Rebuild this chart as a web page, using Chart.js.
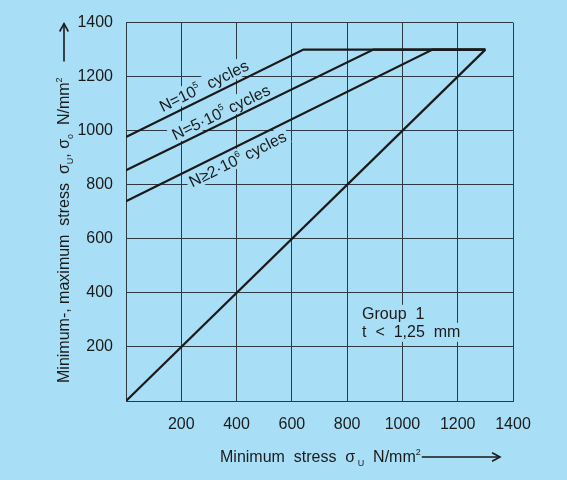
<!DOCTYPE html>
<html>
<head>
<meta charset="utf-8">
<script src="https://cdn.jsdelivr.net/npm/chart.js@4.4.1/dist/chart.umd.min.js"></script>
<style>
  html, body { margin: 0; padding: 0; background: #a8dff7; }
  #wrap { width: 567px; height: 480px; }
</style>
</head>
<body>
<div id="wrap"><canvas id="stressChart" width="567" height="480"></canvas></div>
<script>
// axis ticks, N/mm2
const tickValues = [0, 200, 400, 600, 800, 1000, 1200, 1400];

// corner points of the curves
const n1e5X = [0, 642, 1300];
const n1e5Y = [977, 1300, 1300];
const n5e5X = [0, 895, 1300];
const n5e5Y = [854, 1300, 1300];
const n2e6X = [0, 1109, 1300];
const n2e6Y = [739, 1300, 1300];
const diagX = [0, 1300];
const diagY = [0, 1300];

const BG = '#a8dff7';
const INK = '#1a1a1a';
const FONT = "'Liberation Sans', Arial, sans-serif";

function toPoints(xs, ys) {
    return xs.map((x, i) => ({ x: x, y: ys[i] }));
}

// --------------------------------------------------------------------
// rich text helpers (sub/superscripts)
// --------------------------------------------------------------------
function partFont(kind, size) {
    const s = kind ? Math.round(size * 0.58) : size;
    return s + 'px ' + FONT;
}

function measureRich(ctx, parts, size) {
    let w = 0;
    parts.forEach(p => {
        ctx.font = partFont(p[1], size);
        w += ctx.measureText(p[0]).width;
    });
    return w;
}

function drawRich(ctx, parts, size, x, y) {
    parts.forEach(p => {
        ctx.font = partFont(p[1], size);
        let dy = 0;
        if (p[1] === 'sup') dy = -size * 0.45;
        if (p[1] === 'sub') dy = size * 0.28;
        ctx.fillText(p[0], x, y + dy);
        x += ctx.measureText(p[0]).width;
    });
    return x;
}

function arrowHead(ctx, x, y, ang) {
    const len = 9, spread = 0.5;
    ctx.beginPath();
    ctx.moveTo(x - len * Math.cos(ang - spread), y - len * Math.sin(ang - spread));
    ctx.lineTo(x, y);
    ctx.lineTo(x - len * Math.cos(ang + spread), y - len * Math.sin(ang + spread));
    ctx.stroke();
}

// --------------------------------------------------------------------
// annotations
// --------------------------------------------------------------------
const curveLabels = [
    { parts: [['N=10'], ['5', 'sup'], ['  cycles']], xs: n1e5X, ys: n1e5Y, at: 300, base: -6 },
    { parts: [['N=5\u00b710'], ['5', 'sup'], [' cycles']], xs: n5e5X, ys: n5e5Y, at: 360, base: -5 },
    { parts: [['N\u22652\u00b710'], ['6', 'sup'], [' cycles']], xs: n2e6X, ys: n2e6Y, at: 385, base: 17 }
];

const groupNote = { x: 854, y: 304, lines: ['Group  1', 't  <  1,25  mm'] };

const annotations = {
    id: 'annotations',
    beforeDatasetsDraw(chart) {
        const ctx = chart.ctx;
        const xs = chart.scales.x, ys = chart.scales.y;
        const size = 16;

        curveLabels.forEach(lab => {
            let i = 0;
            while (i < lab.xs.length - 2 && lab.at > lab.xs[i + 1]) i++;
            const t = (lab.at - lab.xs[i]) / (lab.xs[i + 1] - lab.xs[i]);
            const yv = lab.ys[i] + t * (lab.ys[i + 1] - lab.ys[i]);
            const px = xs.getPixelForValue(lab.at), py = ys.getPixelForValue(yv);
            const ang = Math.atan2(
                ys.getPixelForValue(lab.ys[i + 1]) - ys.getPixelForValue(lab.ys[i]),
                xs.getPixelForValue(lab.xs[i + 1]) - xs.getPixelForValue(lab.xs[i]));
            const w = measureRich(ctx, lab.parts, size);

            ctx.save();
            ctx.translate(px, py);
            ctx.rotate(ang);
            ctx.fillStyle = BG;
            ctx.fillRect(-w / 2 - 3, lab.base - 15, w + 6, 18);
            ctx.fillStyle = INK;
            ctx.textBaseline = 'alphabetic';
            ctx.textAlign = 'left';
            drawRich(ctx, lab.parts, size, -w / 2, lab.base);
            ctx.restore();
        });

        // group note
        ctx.save();
        ctx.font = size + 'px ' + FONT;
        ctx.textBaseline = 'alphabetic';
        ctx.textAlign = 'left';
        const gx = xs.getPixelForValue(groupNote.x), gy = ys.getPixelForValue(groupNote.y);
        groupNote.lines.forEach((line, k) => {
            const w = ctx.measureText(line).width;
            ctx.fillStyle = BG;
            ctx.fillRect(gx - 4, gy + k * 18 - 14, w + 8, 19);
            ctx.fillStyle = INK;
            ctx.fillText(line, gx, gy + k * 18);
        });
        ctx.restore();
    },
    afterDraw(chart) {
        const ctx = chart.ctx;
        const area = chart.chartArea;
        const size = 16;
        ctx.save();
        ctx.fillStyle = INK;
        ctx.strokeStyle = INK;
        ctx.lineWidth = 1.6;
        ctx.textBaseline = 'alphabetic';
        ctx.textAlign = 'left';

        // x title with arrow
        const xParts = [['Minimum  stress  \u03c3'], [' U', 'sub'], ['  N/mm'], ['2', 'sup']];
        const xEnd = drawRich(ctx, xParts, size, area.left + 94, 462);
        const ay = 457, axEnd = area.right - 13;
        ctx.beginPath();
        ctx.moveTo(xEnd + 1, ay);
        ctx.lineTo(axEnd, ay);
        ctx.stroke();
        arrowHead(ctx, axEnd, ay, 0);

        // y title with arrow
        const yParts = [['Minimum-, maximum  stress  \u03c3'], ['U', 'sub'], [', \u03c3'], ['o', 'sub'], ['  N/mm'], ['2', 'sup']];
        ctx.save();
        ctx.translate(69, area.bottom - 18);
        ctx.rotate(-Math.PI / 2);
        const yEnd = drawRich(ctx, yParts, size, 0, 0);
        ctx.restore();
        const axX = 64, ayStart = area.bottom - 18 - yEnd - 16, ayEnd = area.top + 1;
        ctx.beginPath();
        ctx.moveTo(axX, ayStart);
        ctx.lineTo(axX, ayEnd);
        ctx.stroke();
        arrowHead(ctx, axX, ayEnd, -Math.PI / 2);
        ctx.restore();
    }
};

// --------------------------------------------------------------------
// chart
// --------------------------------------------------------------------
function lineSet(xs, ys) {
    return {
        data: toPoints(xs, ys),
        showLine: true,
        borderColor: INK,
        backgroundColor: INK,
        borderWidth: 2.2,
        pointRadius: 0,
        tension: 0
    };
}

function axis(extra) {
    return Object.assign({
        type: 'linear',
        min: 0,
        max: 1400,
        afterBuildTicks: s => { s.ticks = tickValues.map(v => ({ value: v })); },
        ticks: {
            color: INK,
            font: { family: FONT, size: 16 },
            callback: v => (v === 0 ? '' : String(v))
        },
        grid: { color: '#2e3a42', lineWidth: 1, drawTicks: false },
        border: { color: '#2e3a42', width: 1 }
    }, extra);
}

const xAxis = axis({ afterFit: s => { s.height = 79; } });
xAxis.ticks.padding = 14;
const yAxis = axis({ afterFit: s => { s.width = 126; } });
yAxis.ticks = Object.assign({}, yAxis.ticks, { padding: 13 });

new Chart(document.getElementById('stressChart'), {
    type: 'scatter',
    data: {
        datasets: [
            lineSet(n1e5X, n1e5Y),
            lineSet(n5e5X, n5e5Y),
            lineSet(n2e6X, n2e6Y),
            lineSet(diagX, diagY)
        ]
    },
    options: {
        responsive: false,
        animation: false,
        layout: { padding: { top: 14, right: 54, left: 0, bottom: 0 } },
        plugins: { legend: { display: false }, tooltip: { enabled: false } },
        scales: { x: xAxis, y: yAxis }
    },
    plugins: [annotations]
});
</script>
</body>
</html>
